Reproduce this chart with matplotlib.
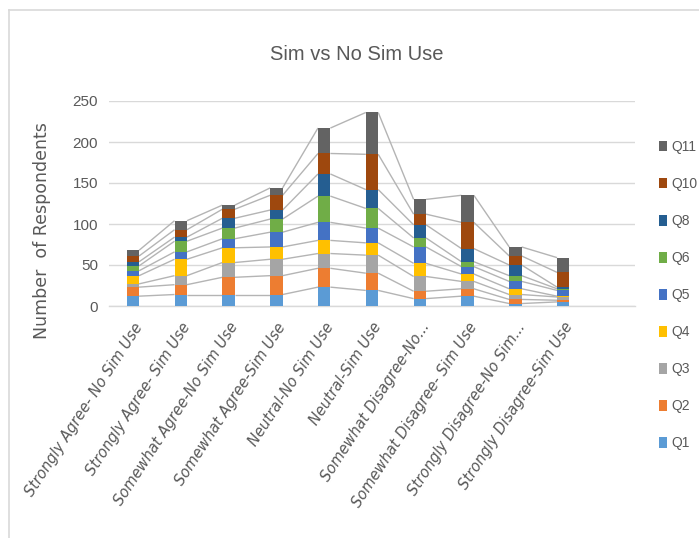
import numpy as np
import matplotlib
matplotlib.use("Agg")
import matplotlib.pyplot as plt
from matplotlib.patches import Patch
from matplotlib.lines import Line2D

categories = [
    "Strongly Agree- No Sim Use",
    "Strongly Agree- Sim Use",
    "Somewhat Agree-No Sim Use",
    "Somewhat Agree-Sim Use",
    "Neutral-No Sim Use",
    "Neutral-Sim Use",
    "Somewhat Disagree-No...",
    "Somewhat Disagree- Sim Use",
    "Strongly Disagree-No Sim...",
    "Strongly Disagree-Sim Use",
]

q1 = [12, 14, 14, 14, 23, 19, 9, 12, 3, 5]
q2 = [11, 12, 21, 23, 23, 21, 9, 9, 5, 2]
q3 = [4, 11, 18, 20, 18, 22, 18, 9, 6, 4]
q4 = [10, 20, 18, 15, 16, 15, 16, 9, 7, 1]
q5 = [6, 9, 11, 18, 22, 18, 20, 9, 9, 7]
q6 = [6, 13, 13, 16, 32, 24, 11, 6, 7, 2]
q8 = [5, 5, 12, 11, 27, 23, 16, 16, 13, 2]
q10 = [7, 9, 11, 18, 25, 43, 13, 32, 11, 18]
q11 = [7, 11, 5, 9, 31, 51, 18, 33, 11, 18]

series_names = ["Q1", "Q2", "Q3", "Q4", "Q5", "Q6", "Q8", "Q10", "Q11"]
series_values = [q1, q2, q3, q4, q5, q6, q8, q10, q11]
series_colors = ["#5B9BD5", "#ED7D31", "#A5A5A5", "#FFC000", "#4472C4",
                 "#70AD47", "#255E91", "#9E480E", "#636363"]

yticks = [0, 50, 100, 150, 200, 250]

text_gray = "#595959"
grid_gray = "#d9d9d9"
sans = ["Liberation Sans", "DejaVu Sans"]

W, H = 699, 538
fig = plt.figure(figsize=(W / 100, H / 100), dpi=100)

# chart area border
fig.add_artist(Line2D([9 / W, 9 / W], [0, 1 - 10 / H], color=grid_gray, lw=1.2,
                      transform=fig.transFigure))
fig.add_artist(Line2D([9 / W, 1], [1 - 10 / H, 1 - 10 / H], color=grid_gray, lw=1.2,
                      transform=fig.transFigure))

left, right = 109 / W, 635 / W
bottom, top = 1 - 306 / H, 1 - 101 / H
ax = fig.add_axes([left, bottom, right - left, top - bottom])

x = np.arange(len(categories))
bar_w = 0.26
base = np.zeros(len(categories))
tops = []
for name, vals, col in zip(series_names, series_values, series_colors):
    vals = np.array(vals, dtype=float)
    ax.bar(x, vals, bar_w, bottom=base, color=col, label=name, zorder=3,
           linewidth=0)
    base = base + vals
    tops.append(base.copy())

# series lines joining the segment tops of neighbouring columns
for t in tops:
    for i in range(len(x) - 1):
        ax.plot([x[i] + bar_w / 2, x[i + 1] - bar_w / 2], [t[i], t[i + 1]],
                color="#b4b4b4", lw=1.0, zorder=2, solid_capstyle="butt")

ax.set_xlim(-0.5, len(categories) + 0.5)
ax.set_ylim(0, 250)
ax.set_yticks(yticks)
ax.set_yticklabels([str(v) for v in yticks], family=sans, fontsize=11,
                   color=text_gray)
ax.tick_params(axis="y", length=0, pad=8)
ax.yaxis.grid(True, color=grid_gray, lw=1.0, zorder=0)
ax.set_axisbelow(True)
for s in ["left", "right", "top"]:
    ax.spines[s].set_visible(False)
ax.spines["bottom"].set_color(grid_gray)
ax.spines["bottom"].set_linewidth(1.0)

ax.set_xticks(x)
ax.set_xticklabels(categories, rotation=57, ha="right", va="top",
                   rotation_mode="anchor", fontsize=10.5, style="italic",
                   color=text_gray, family=["DejaVu Sans"])
ax.tick_params(axis="x", length=0, pad=10)

fig.text(357 / W, 1 - 55 / H, "Sim vs No Sim Use", ha="center", va="center",
         fontsize=14.5, color=text_gray, family=sans)
fig.text(42 / W, 1 - 231 / H, "Number  of Respondents", rotation=90,
         ha="center", va="center", fontsize=12.5, color=text_gray,
         family="DejaVu Sans")

handles = [Patch(facecolor=c, edgecolor="none") for c in series_colors][::-1]
labels = series_names[::-1]
fig.legend(handles, labels, loc="upper left",
           bbox_to_anchor=(652 / W, 1 - 133 / H), frameon=False,
           prop={"family": sans, "size": 10}, labelcolor=text_gray,
           handlelength=0.6, handleheight=0.8, handletextpad=0.3,
           labelspacing=1.66, borderpad=0)

fig.savefig("out.png", dpi=100)
